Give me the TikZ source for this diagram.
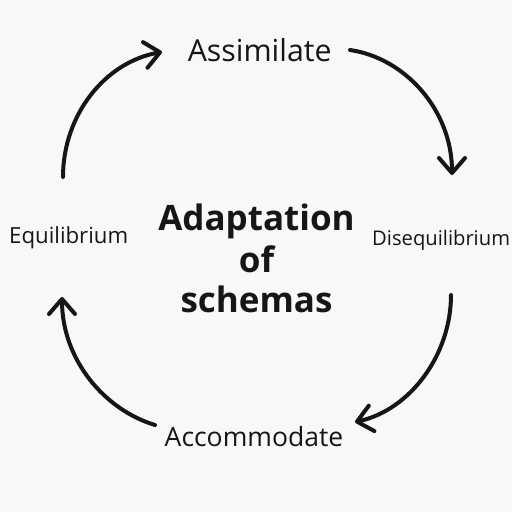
\documentclass[tikz,border=0pt]{standalone}
\usepackage{fontspec}
\setmainfont{Open Sans}
\usetikzlibrary{arrows.meta}
\definecolor{bg}{RGB}{248,248,248}
\definecolor{ink}{RGB}{22,22,22}
\tikzset{
  lbl/.style={inner sep=0pt, text=ink},
  arc/.style={draw=ink, line width=4pt, line cap=round,
    -{Straight Barb[length=15pt,width=26pt,round]}},
}
\begin{document}
\begin{tikzpicture}[x=1pt,y=-1pt]
\useasboundingbox[fill=bg] (0,0) rectangle (512,512);
% labels
\node[lbl, anchor=base] (assim) at (259.7,61) {\fontsize{30.3}{32}\selectfont Assimilate};
\node[lbl, anchor=base] (accom) at (254,446.7) {\fontsize{26.5}{28}\selectfont Accommodate};
\node[lbl, anchor=base west] (equi) at (9,243) {\fontsize{22.2}{24}\selectfont Equilibrium};
\node[lbl, anchor=base west] (diseq) at (372,245) {\fontsize{20.2}{24}\selectfont Disequilibrium};
\node[lbl, anchor=base] (ad1) at (256.5,230) {\fontsize{35}{40}\selectfont\bfseries Adaptation};
\node[lbl, anchor=base] (ad2) at (256.5,272) {\fontsize{35}{40}\selectfont\bfseries of};
\node[lbl, anchor=base] (ad3) at (256.5,312) {\fontsize{35}{40}\selectfont\bfseries schemas};
% arc end points
\coordinate (s1) at (63,177);  \coordinate (e1) at (162,52);
\coordinate (s2) at (350,50);  \coordinate (e2) at (452,175);
\coordinate (s3) at (451,295); \coordinate (e3) at (355,422);
\coordinate (s4) at (155,425); \coordinate (e4) at (62,297);
\draw[arc] (s1) .. controls (63,115) and (105,62) .. (e1);
\draw[arc] (s2) .. controls (405,58) and (452,110) .. (e2);
\draw[arc] (s3) .. controls (451,355) and (410,410) .. (e3);
\draw[arc] (s4) .. controls (105,410) and (62,360) .. (e4);
\end{tikzpicture}
\end{document}
